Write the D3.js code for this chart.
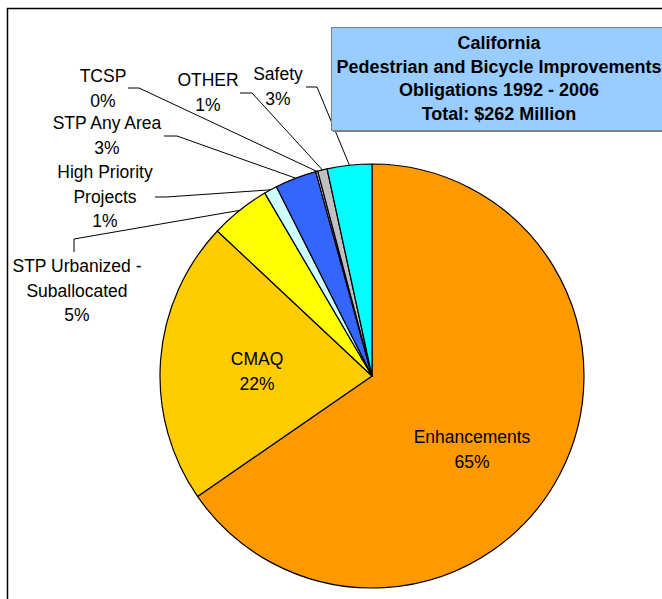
<!DOCTYPE html>
<html>
<head>
<meta charset="utf-8">
<script src="https://cdn.jsdelivr.net/npm/d3@7"></script>
<style>
  body { margin: 0; background: #fff; }
  text { font-family: "Liberation Sans", Arial, sans-serif; fill: #000; }
</style>
</head>
<body>
<script>
// obligaciones en millones de dolares, en el orden del grafico (sentido horario)
const categories = ["Enhancements", "CMAQ", "STP Urbanized - Suballocated", "High Priority Projects",
  "STP Any Area", "TCSP", "OTHER", "Safety"];
const amounts = [171.3, 56.6, 12.0, 2.6, 8.3, 0.4, 1.9, 8.9];
const labelLines = [["Enhancements"], ["CMAQ"], ["STP Urbanized -", "Suballocated"],
  ["High Priority", "Projects"], ["STP Any Area"], ["TCSP"], ["OTHER"], ["Safety"]];
const titleLines = ["California", "Pedestrian and Bicycle Improvements",
  "Obligations 1992 - 2006", "Total: $262 Million"];

const colores = ["#FF9900", "#FFCC00", "#FFFF00", "#CCFFFF", "#3366FF", "#E8E8FF", "#C0C0C0", "#00FFFF"];

// posicion de las etiquetas: x centro, y primera linea, y puntos de la linea guia
const etiquetas = [
  { x: 472, y: 437, guia: null },
  { x: 257, y: 359, guia: null },
  { x: 77, y: 266, guia: [[74, 252], [74, 239]] },
  { x: 105, y: 172, guia: [[155, 197], [166, 197]] },
  { x: 107, y: 123, guia: [[164, 136], [177, 136]] },
  { x: 103, y: 76, guia: [[128, 88], [139, 88]] },
  { x: 208, y: 80, guia: [[240, 93], [252, 93]] },
  { x: 278, y: 74, guia: [[306, 87], [317, 87]] }
];

const width = 662;
const height = 599;
const centro = { x: 372, y: 376 };
const radio = 212;
const interlineado = 24.5;

const total = d3.sum(amounts);
const pct = v => Math.round(v / total * 100) + "%";

const svg = d3.select("body").append("svg")
  .attr("width", width)
  .attr("height", height);

// marco del area del grafico
svg.append("rect")
  .attr("x", 7.5).attr("y", 8.5)
  .attr("width", 900).attr("height", 900)
  .attr("fill", "none")
  .attr("stroke", "#000")
  .attr("stroke-width", 1.5);

const pie = d3.pie().sort(null).value(d => d);
const arcos = pie(amounts);
const arco = d3.arc().innerRadius(0).outerRadius(radio);
const borde = d3.arc().innerRadius(radio).outerRadius(radio);

const g = svg.append("g")
  .attr("transform", "translate(" + centro.x + "," + centro.y + ")");

g.selectAll("path")
  .data(arcos)
  .enter()
  .append("path")
  .attr("d", arco)
  .attr("fill", (d, i) => colores[i])
  .attr("stroke", "#000")
  .attr("stroke-width", 1.2)
  .attr("stroke-linejoin", "round");

// lineas guia
const linea = d3.line();
arcos.forEach((d, i) => {
  const e = etiquetas[i];
  if (!e.guia) return;
  const p = borde.centroid(d);
  const puntos = e.guia.concat([[p[0] + centro.x, p[1] + centro.y]]);
  svg.append("path")
    .attr("d", linea(puntos))
    .attr("fill", "none")
    .attr("stroke", "#000")
    .attr("stroke-width", 1);
});

// etiquetas
arcos.forEach((d, i) => {
  const e = etiquetas[i];
  const lineas = labelLines[i].concat([pct(amounts[i])]);
  const t = svg.append("text")
    .attr("text-anchor", "middle")
    .attr("font-size", "17.5px");
  lineas.forEach((l, j) => {
    t.append("tspan")
      .attr("x", e.x)
      .attr("y", e.y + j * interlineado)
      .attr("dy", "0.35em")
      .text(l);
  });
});

// cuadro del titulo
svg.append("rect")
  .attr("x", 333).attr("y", 29)
  .attr("width", 400).attr("height", 103)
  .attr("fill", "#808080");
svg.append("rect")
  .attr("x", 331.5).attr("y", 27.5)
  .attr("width", 400).attr("height", 103)
  .attr("fill", "#99CCFF")
  .attr("stroke", "#808080")
  .attr("stroke-width", 1);

svg.append("g")
  .selectAll("text")
  .data(titleLines)
  .enter()
  .append("text")
  .attr("x", 499)
  .attr("y", (d, i) => 49 + i * 23.5)
  .attr("text-anchor", "middle")
  .attr("font-size", "18px")
  .attr("font-weight", "bold")
  .text(d => d);
</script>
</body>
</html>
